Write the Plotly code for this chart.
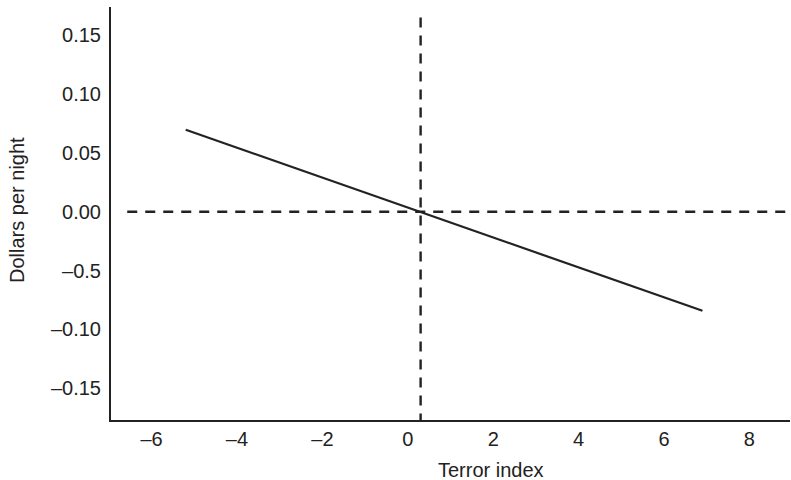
import plotly.graph_objects as go

# Data
line_x = [-5.2, 6.9]
line_y = [0.0697, -0.0842]
ref_x = 0.3          # vertical dashed reference (terror index)
ref_y = 0.0          # horizontal dashed reference
hline_x = [-6.57, 9.0]
vline_y = [0.165, -0.177]

x_tickvals = [-6, -4, -2, 0, 2, 4, 6, 8]
x_ticktext = ["\u20136", "\u20134", "\u20132", "0", "2", "4", "6", "8"]
y_tickvals = [0.15, 0.10, 0.05, 0.0, -0.05, -0.10, -0.15]
y_ticktext = ["0.15", "0.10", "0.05", "0.00", "\u20130.5", "\u20130.10", "\u20130.15"]
x_title = "Terror index"
y_title = "Dollars per night"

fig = go.Figure()
fig.add_trace(go.Scatter(x=hline_x, y=[ref_y, ref_y], mode="lines",
                         line=dict(color="#222222", width=2.4, dash="10px,8px"),
                         showlegend=False, hoverinfo="skip"))
fig.add_trace(go.Scatter(x=[ref_x, ref_x], y=vline_y, mode="lines",
                         line=dict(color="#222222", width=2.4, dash="10px,8px"),
                         showlegend=False, hoverinfo="skip"))
fig.add_trace(go.Scatter(x=line_x, y=line_y, mode="lines",
                         line=dict(color="#222222", width=2.2),
                         showlegend=False))

font = dict(family="Liberation Sans, Arial, sans-serif", color="#222222")
fig.update_layout(
    width=791, height=480,
    margin=dict(l=111, r=1, t=7, b=60),
    paper_bgcolor="white", plot_bgcolor="white",
    font=dict(size=21, **font),
    xaxis=dict(range=[-6.95, 8.95], tickvals=x_tickvals, ticktext=x_ticktext,
               showgrid=False, zeroline=False, showline=True, linecolor="#222222",
               linewidth=2, ticks="", ticklabelstandoff=0,
               tickfont=dict(size=20, **font)),
    yaxis=dict(range=[-0.177, 0.174], tickvals=y_tickvals, ticktext=y_ticktext,
               showgrid=False, zeroline=False, showline=True, linecolor="#222222",
               linewidth=2, ticks="", ticklabelstandoff=4,
               tickfont=dict(size=20, **font)),
    annotations=[
        dict(text=x_title, xref="paper", yref="paper", x=(491 - 111) / 679,
             y=-(470 - 420) / 413, xanchor="center", yanchor="middle",
             showarrow=False, font=dict(size=20, **font)),
        dict(text=y_title, xref="paper", yref="paper", x=-(111 - 17) / 679,
             y=(420 - 210) / 413, xanchor="center", yanchor="middle",
             textangle=-90, showarrow=False, font=dict(size=20, **font)),
    ],
)

fig.write_html("out.html")
